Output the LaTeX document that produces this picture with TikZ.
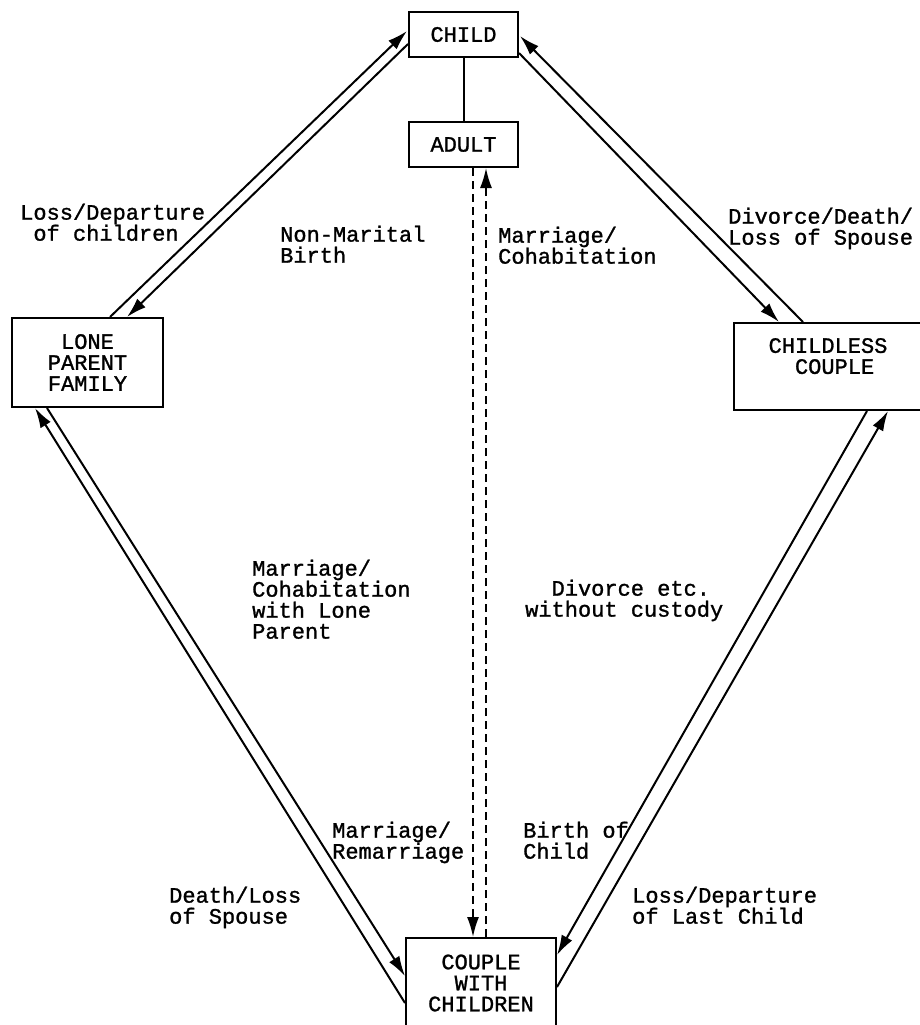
\documentclass[tikz,border=0pt]{standalone}
\usepackage{fontspec}
\newfontfamily\typefont[FakeBold=1.2]{Liberation Mono}
\usepackage{tikz}
\usetikzlibrary{arrows.meta}
\tikzstyle{box} = [rectangle, draw, line width=2pt, align=center,
    inner sep=0pt]
\tikzstyle{lbl} = [anchor=north west, align=left, inner sep=0pt]
\tikzstyle{line} = [draw, line width=2pt, -{Latex[length=20pt,width=12pt]}]
\tikzstyle{dline} = [line, line width=1.8pt, dash pattern=on 8pt off 5pt]

\begin{document}
\begin{tikzpicture}[x=1pt, y=-1pt, every
 node/.style={font=\typefont\fontsize{22}{21}\selectfont}]
    \useasboundingbox (0,0) rectangle (919,1025);
    % Place nodes
    \node [box, minimum width=109pt, minimum height=45pt] (child) at (463.5,34.5) {CHILD};
    \node [box, minimum width=109pt, minimum height=45pt] (adult) at (463.5,144.5) {ADULT};
    \node [box, minimum width=151pt, minimum height=89pt] (lone) at (87.5,362.5)
    {LONE\\PARENT\\FAMILY};
    \node [box, minimum width=188pt, minimum height=87pt] (childless) at (828,366.5)
    {CHILDLESS\\~COUPLE\\~};
    \node [box, minimum width=150pt, minimum height=90pt] (couple) at (481,983)
    {COUPLE\\WITH\\CHILDREN};

    % Labels
    \node [lbl] (l1) at (20,203.5) {Loss/Departure\\~of children};
    \node [lbl] (l2) at (280,225.5) {Non-Marital\\Birth};
    \node [lbl] (l3) at (498,226.5) {Marriage/\\Cohabitation};
    \node [lbl] (l4) at (728,207.5) {Divorce/Death/\\Loss of Spouse};
    \node [lbl] (l5) at (252,559.5) {Marriage/\\Cohabitation\\with Lone\\Parent};
    \node [lbl] (l6) at (525,579.5) {~~Divorce etc.\\without custody};
    \node [lbl] (l7) at (332,821.5) {Marriage/\\Remarriage};
    \node [lbl] (l8) at (523,821.5) {Birth of\\Child};
    \node [lbl] (l9) at (169,886.5) {Death/Loss\\of Spouse};
    \node [lbl] (l10) at (632,886.5) {Loss/Departure\\of Last Child};

    % Draw edges
    \draw [line width=2pt] (child) -- (adult);
    \path [line] ([xshift=22.5pt]lone.north) -- ([shift={(-1pt,3.5pt)}]child.west);
    \path [line] ([yshift=-9.5pt]child.west) -- ([xshift=39.5pt]lone.north);
    \path [line] ([xshift=-25pt]childless.north) -- ([shift={(1pt,-1.5pt)}]child.east);
    \path [line] ([yshift=-18.5pt]child.east) -- ([xshift=-49pt]childless.north);
    \path [line] ([yshift=-20pt]couple.west) -- ([xshift=-52.5pt]lone.south);
    \path [line] ([xshift=-40.5pt]lone.south) -- ([yshift=7pt]couple.west);
    \path [line] ([yshift=-4pt]couple.east) -- ([xshift=60pt]childless.south);
    \path [line] ([xshift=39pt]childless.south) -- ([yshift=28pt]couple.east);
    \path [dline] ([xshift=9.5pt]adult.south) -- ([xshift=-8pt]couple.north);
    \path [dline] ([xshift=5pt]couple.north) -- ([xshift=22.5pt]adult.south);
\end{tikzpicture}
\end{document}
